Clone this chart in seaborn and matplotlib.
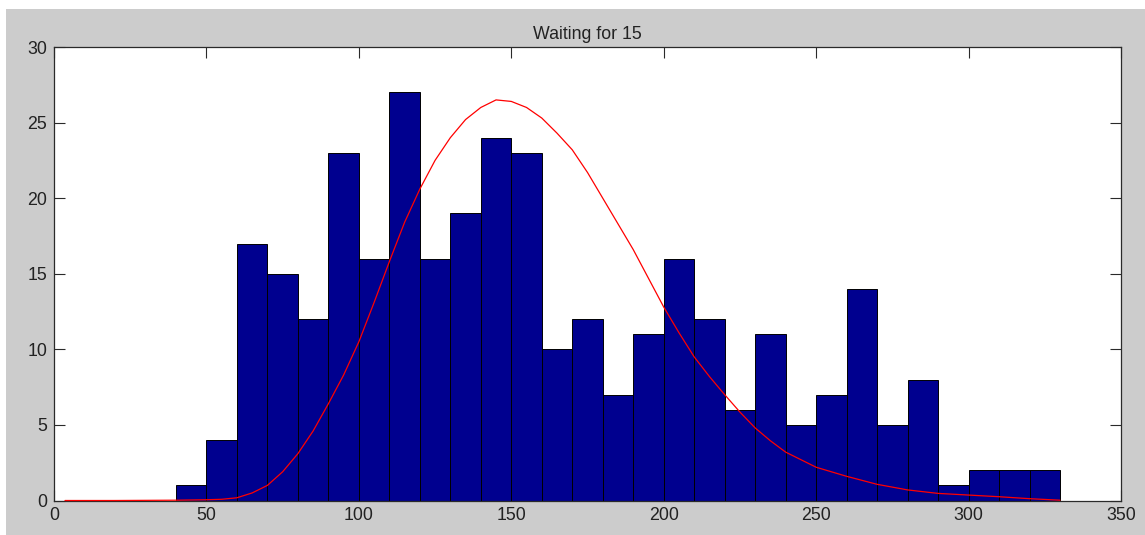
import matplotlib
matplotlib.use("Agg")
import matplotlib.pyplot as plt
import seaborn as sns
import pandas as pd
from matplotlib.patches import Rectangle

# ---- data ----
bin_edges = [40, 50, 60, 70, 80, 90, 100, 110, 120, 130, 140, 150, 160, 170, 180,
             190, 200, 210, 220, 230, 240, 250, 260, 270, 280, 290, 300, 310, 320, 330]
bin_counts = [1, 4, 17, 15, 12, 23, 16, 27, 16, 19, 24, 23, 10, 12, 7,
              11, 16, 12, 6, 11, 5, 7, 14, 5, 8, 1, 2, 2, 2]

curve_x = [3.6, 10, 20, 30, 40, 50, 55, 60, 65, 70, 75, 80, 85, 90, 95, 100, 105, 110,
           115, 120, 125, 130, 135, 140, 145, 150, 155, 160, 165, 170, 175, 180, 185,
           190, 195, 200, 205, 210, 215, 220, 225, 230, 235, 240, 250, 260, 270, 280,
           290, 300, 310, 320, 330]
curve_y = [0.0, 0.0, 0.0, 0.01, 0.02, 0.05, 0.08, 0.18, 0.5, 1.0, 1.9, 3.1, 4.6, 6.4,
           8.3, 10.5, 13.1, 15.8, 18.4, 20.6, 22.5, 24.0, 25.2, 26.0, 26.5, 26.4, 26.0,
           25.3, 24.3, 23.2, 21.7, 20.0, 18.3, 16.6, 14.7, 12.8, 11.1, 9.5, 8.2, 7.0,
           5.85, 4.8, 3.95, 3.2, 2.2, 1.6, 1.07, 0.7, 0.47, 0.36, 0.25, 0.12, 0.02]

title_text = "Waiting for 15"
x_ticks = [0, 50, 100, 150, 200, 250, 300, 350]
y_ticks = [0, 5, 10, 15, 20, 25, 30]

bin_centers = [(a + b) / 2 for a, b in zip(bin_edges[:-1], bin_edges[1:])]
hist_df = pd.DataFrame({"value": bin_centers, "count": bin_counts})
curve_df = pd.DataFrame({"x": curve_x, "y": curve_y})

sns.set_theme(style="ticks")
plt.rcParams["font.family"] = ["Liberation Sans", "DejaVu Sans"]

W, H = 1145, 535
fig = plt.figure(figsize=(W / 100, H / 100), dpi=100, facecolor="#cccccc")
# thin white border of the screenshot (top and left)
fig.patches.append(Rectangle((0, 1 - 9 / H), 1, 9 / H, transform=fig.transFigure,
                             facecolor="white", edgecolor="none"))
fig.patches.append(Rectangle((0, 0), 6 / W, 1, transform=fig.transFigure,
                             facecolor="white", edgecolor="none"))

ax = fig.add_axes([54 / W, 1 - 500.5 / H, (1121 - 54) / W, (500.5 - 47) / H])
ax.set_facecolor("white")

sns.histplot(data=hist_df, x="value", weights="count", bins=bin_edges, ax=ax,
             color="#00008f", edgecolor="black", linewidth=0.7, alpha=1.0)
sns.lineplot(data=curve_df, x="x", y="y", ax=ax, color="red", linewidth=0.9,
             clip_on=False, zorder=5)

ax.set_xlim(0, 350)
ax.set_ylim(0, 30)
ax.set_xticks(x_ticks)
ax.set_yticks(y_ticks)
ax.set_xlabel("")
ax.set_ylabel("")
ax.set_title(title_text, fontsize=12.8, color="#222222", pad=6)

for side in ["top", "bottom", "left", "right"]:
    ax.spines[side].set_visible(True)
    ax.spines[side].set_color("#2a2a2a")
    ax.spines[side].set_linewidth(0.9)

ax.tick_params(axis="both", which="both", direction="in", length=8, width=0.8,
               color="#2a2a2a", labelsize=12.8, labelcolor="#222222", pad=5,
               top=True, right=True)

fig.savefig("out.png", dpi=100, facecolor=fig.get_facecolor())
